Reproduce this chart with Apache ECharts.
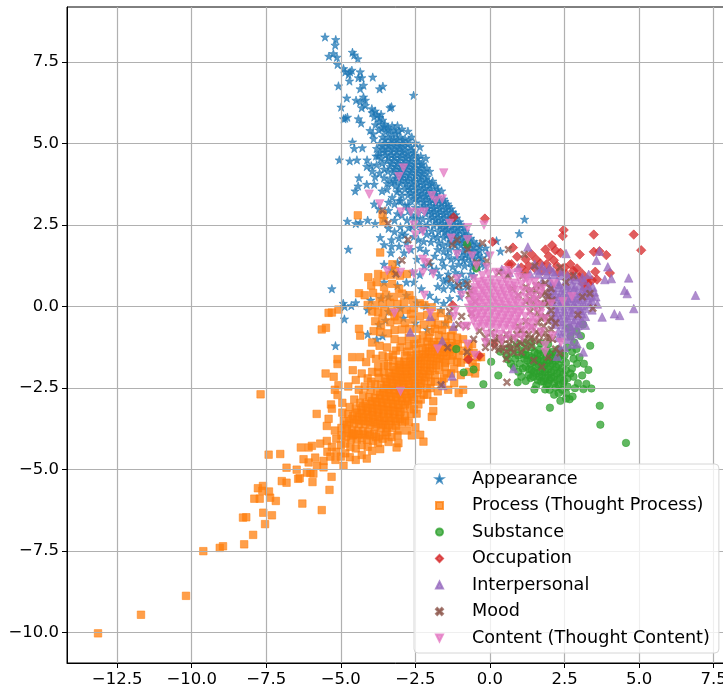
<!DOCTYPE html>
<html><head><meta charset="utf-8">
<style>html,body{margin:0;padding:0;background:#fff}#c{width:723px;height:688px}</style>
<script src="https://cdn.jsdelivr.net/npm/echarts@6/dist/echarts.min.js"></script></head>
<body><div id="c"></div>
<script>
const seriesNames = ["Appearance","Process (Thought Process)","Substance","Occupation","Interpersonal","Mood","Content (Thought Content)"];
const xTicks = [-12.5,-10,-7.5,-5,-2.5,0,2.5,5,7.5];
const yTicks = [-10,-7.5,-5,-2.5,0,2.5,5,7.5];
const appearance = [[-5.53,8.27],[-5.17,8.19],[-5.19,8.02],[-5.4,7.68],[-5.25,7.76],[-5.13,7.65],[-4.61,7.8],[-4.55,7.72],[-4.43,7.6],[-5.11,7.43],[-4.91,7.3],[-4.85,7.2],[-4.69,7.2],[-4.63,7.25],[-4.74,7.12],[-4.35,7.2],[-4.3,7.02],[-4.41,7.02],[-4.24,6.79],[-4.35,6.68],[-3.93,7.04],[-3.59,6.76],[-3.7,6.68],[-5.08,6.77],[-4.71,6.92],[-4.8,6.4],[-2.56,6.48],[-4.49,6.33],[-4.24,6.43],[-4.35,6.28],[-4.18,6.33],[-4.3,6.1],[-4.18,6.17],[-4.99,6.12],[-4.78,5.81],[-4.91,5.76],[-4.85,5.78],[-4.41,5.76],[-4.32,5.63],
[-3.96,6.07],[-3.35,6.1],[-3.3,6.13],[-3.95,5.95],[-3.85,6.0],[-3.78,5.88],[-3.7,5.8],[-3.88,5.82],[-3.6,5.72],[-3.72,5.66],[-3.52,5.6],[-3.84,5.58],[-3.42,5.5],[-3.62,5.48],[-3.28,5.55],[-3.1,5.55],[-2.95,5.45],[-2.75,5.38],[-3.92,5.3],[-4.02,5.4],[-3.5,5.36],[-3.3,5.32],[-3.15,5.3],[-3.4,5.2],[-3.6,5.2],[-3.22,5.15],[-3.02,5.2],[-2.85,5.15],[-2.62,5.2],[-3.7,5.0],[-3.5,5.02],[-3.32,5.0],[-3.12,5.02],[-2.95,5.0],[-2.75,4.98],[-2.5,5.02],[-2.35,4.9],[-3.8,4.85],[-3.6,4.82],[-3.42,4.85],[-3.22,4.83],[-3.04,4.85],[-2.85,4.8],[-2.62,4.8],[-3.75,4.62],[-3.5,4.65],[-3.3,4.66],[-3.12,4.65],[-2.94,4.66],[-2.74,4.62],[-2.52,4.65],[-2.32,4.62],[-2.15,4.55],[-3.45,4.47],[-3.24,4.48],[-3.05,4.48],[-2.85,4.47],[-2.65,4.46],[-2.42,4.45],[-2.25,4.38],[-3.8,4.35],[-3.62,4.4],[-3.35,4.3],[-3.15,4.3],[-2.95,4.3],[-2.75,4.3],[-2.55,4.28],[-2.35,4.25],[-2.12,4.25],[-3.7,4.1],[-3.25,4.12],[-3.05,4.13],[-2.85,4.13],[-2.65,4.12],[-2.45,4.1],[-2.25,4.08],[-2.02,4.15],[-3.55,3.95],[-3.15,3.95],[-2.95,3.96],[-2.75,3.95],[-2.55,3.94],[-2.35,3.92],[-2.15,3.9],[-1.92,3.85],[-3.3,3.78],[-3.0,3.78],[-2.82,3.78],[-2.62,3.77],[-2.42,3.75],[-2.22,3.73],[-2.02,3.72],[-1.8,3.7],[-3.05,3.6],[-2.85,3.6],[-2.68,3.6],[-2.48,3.58],[-2.28,3.56],[-2.08,3.55],[-1.85,3.52],[-1.62,3.55],[-2.95,3.42],[-2.75,3.42],[-2.55,3.4],[-2.35,3.4],[-2.15,3.38],[-1.95,3.36],[-1.75,3.35],[-1.55,3.3],[-2.65,3.25],[-2.42,3.22],[-2.22,3.2],[-2.02,3.2],[-1.82,3.18],[-1.62,3.17],[-1.42,3.15],[-2.85,3.1],[-2.5,3.05],[-2.28,3.03],[-2.08,3.02],[-1.88,3.0],[-1.68,3.0],[-1.48,2.98],[-1.3,3.0],[-2.4,2.88],[-2.15,2.85],[-1.95,2.84],[-1.75,2.83],[-1.55,2.82],[-1.35,2.8],[-1.15,2.82],[-2.55,2.7],[-2.25,2.68],[-2.02,2.67],[-1.82,2.66],[-1.62,2.65],[-1.42,2.63],[-1.22,2.62],[-1.02,2.6],[-2.1,2.5],[-1.88,2.48],[-1.68,2.48],[-1.48,2.46],[-1.28,2.45],[-1.08,2.42],[-0.88,2.44],[-2.3,2.35],[-1.95,2.32],[-1.72,2.3],[-1.52,2.3],[-1.32,2.28],[-1.12,2.26],[-0.9,2.24],[-0.72,2.2],[-1.75,2.12],[-1.55,2.12],[-1.35,2.1],[-1.15,2.08],[-0.95,2.06],[-0.75,2.03],[-0.55,2.0],[-1.98,1.98],[-1.4,1.92],[-1.18,1.9],[-0.98,1.88],[-0.78,1.86],[-0.55,1.82],[-0.35,1.85],[-0.15,1.8],[-1.1,1.72],[-0.9,1.7],[-0.68,1.68],[-0.45,1.65],[-1.55,1.7],[-1.75,1.75],[-0.95,1.52],[-0.72,1.5],[-0.5,1.47],[-0.28,1.5],[-1.3,1.45],[-0.08,1.62],[0.22,2.02],[0.35,1.7],[0.98,2.24],[1.16,2.68],
[-4.61,5.05],[-4.55,4.85],[-4.28,4.87],[-4.46,4.5],[-4.7,4.47],[-5.05,4.5],[-4.12,4.5],[-4.13,4.3],[-3.95,4.15],[-3.98,4.32],[-3.85,3.98],[-4.39,3.95],[-4.52,3.55],[-4.42,3.7],[-4.13,3.75],[-3.88,3.75],[-3.62,3.55],[-3.45,3.6],[-3.28,3.35],[-3.4,3.2],[-3.2,3.15],[-3.05,3.25],[-3.88,3.15],[-3.72,3.0],[-3.4,2.95],[-3.1,2.85],[-2.95,2.8],[-2.78,2.65],[-4.78,2.62],[-4.5,2.55],[-4.35,2.58],[-4.1,2.65],[-3.85,2.55],[-3.4,2.4],[-3.2,2.3],[-3.0,2.45],[-2.72,2.42],[-2.55,2.15],[-2.4,2.05],[-3.3,2.05],[-3.05,2.1],[-2.85,2.2],[-3.68,2.12],[-3.55,1.9],[-4.75,1.76],[-3.32,1.65],[-3.05,1.85],[-2.88,1.65],[-2.65,1.75],[-2.35,1.8],[-2.15,1.7],[-1.85,1.55],[-1.6,1.42],[-1.55,1.25],[-2.0,1.3],[-1.8,1.15],[-1.25,1.22],[-1.05,1.3],[-0.85,1.25],[-0.6,1.22],[-0.4,1.2],[-0.18,1.25],[-3.55,1.3],[-3.3,1.15],[-3.1,1.35],[-2.6,1.05],[-2.35,0.98],[-1.4,1.0],[-1.15,1.05],[-0.95,1.0],[-1.55,0.78],[-1.35,0.72],[-1.05,0.8],[-0.8,0.82],[-0.55,0.95],[-1.75,0.62],[-1.55,0.55],[-1.25,0.55],[-0.98,0.52],[-0.75,0.6],[-2.3,0.55],[-2.02,0.35],[-2.45,0.12],[-1.8,0.2],[-1.55,0.1],[-1.35,0.25],[-1.0,0.3],[-5.3,0.55],[-4.5,0.12],[-4.65,0.03],[-4.92,0.1],[-4.87,-0.0],[-4.0,0.2],[-3.65,0.25],[-3.4,0.3],[-2.8,0.35],[-4.1,-0.1],[-3.72,-0.55],[-3.4,-0.15],[-2.9,-0.35],[-2.5,-0.5],[-4.1,-0.85],[-3.6,-0.9],[-3.5,-0.42],[-2.1,-0.7],[-1.5,-0.5],[-4.88,-0.38],[-5.18,-1.2],[-3.8,-1.0],
[-3.65,5.9],[-3.55,5.52],[-3.72,5.42],[-3.2,5.42],[-3.4,5.42],[-3.05,5.38],[-3.52,5.12],[-3.3,5.1],[-3.1,5.12],[-2.92,5.1],[-2.72,5.1],[-3.6,4.92],[-3.4,4.93],[-3.2,4.92],[-3.02,4.92],[-2.85,4.92],[-2.65,4.9],[-3.7,4.73],[-3.52,4.74],[-3.32,4.75],[-3.12,4.75],[-2.95,4.75],[-2.75,4.72],[-2.55,4.72],[-3.4,4.57],[-3.2,4.57],[-3.0,4.57],[-2.82,4.56],[-2.62,4.56],[-2.42,4.55],[-3.3,4.39],[-3.1,4.39],[-2.9,4.38],[-2.7,4.38],[-2.5,4.37],[-2.3,4.35],[-3.2,4.22],[-3.0,4.22],[-2.8,4.22],[-2.6,4.2],[-2.4,4.18],[-2.2,4.16],[-3.1,4.04],[-2.9,4.04],[-2.7,4.04],[-2.5,4.02],[-2.3,4.0],[-2.1,3.98],[-2.95,3.87],[-2.75,3.87],[-2.55,3.85],[-2.32,3.83],[-2.12,3.82],[-1.95,3.78],[-2.75,3.68],[-2.55,3.68],[-2.38,3.66],[-2.18,3.64],[-1.98,3.62],[-1.75,3.6],[-2.65,3.5],[-2.42,3.48],[-2.22,3.47],[-2.02,3.46],[-1.82,3.44],[-2.5,3.32],[-2.32,3.31],[-2.12,3.3],[-1.92,3.28],[-1.72,3.26],[-1.52,3.23],[-2.2,3.12],[-1.98,3.1],[-1.78,3.09],[-1.58,3.08],[-1.38,3.07],[-2.05,2.93],[-1.85,2.92],[-1.65,2.9],[-1.45,2.9],[-1.25,2.9],[-1.92,2.75],[-1.72,2.74],[-1.52,2.73],[-1.32,2.72],[-1.12,2.72],[-1.78,2.57],[-1.58,2.56],[-1.38,2.54],[-1.18,2.53],[-0.98,2.52],[-1.6,2.39],[-1.42,2.37],[-1.22,2.36],[-1.02,2.34],[-0.82,2.32],[-1.45,2.2],[-1.25,2.18],[-1.05,2.16],[-0.85,2.14],[-0.65,2.1],[-1.28,2.0],[-1.08,1.98],[-0.88,1.96],[-0.68,1.94],[-0.45,1.92],[-0.8,1.78],[-0.58,1.74],[-0.35,1.72],[-0.82,1.6],[-0.6,1.58],[-0.38,1.57],
[-3.9,5.15],[-3.82,4.62],[-3.65,4.55],[-3.55,4.22],[-3.42,4.15],[-3.35,3.92],[-3.45,3.78],[-3.15,3.72],[-3.12,3.52],[-3.2,3.85],[-2.98,3.25],[-2.75,3.12],[-2.72,2.95],[-2.62,2.82],[-2.42,2.72],[-2.38,2.52],[-2.18,2.42],[-2.12,2.22],[-1.9,2.15],[-1.72,1.95],[-1.58,1.88],[-1.35,1.75],[-1.12,1.5],[-0.88,1.42],[-0.65,1.35],[-0.3,1.38],[-1.42,1.58],[-2.22,2.0],[-2.6,2.45],[-3.2,2.65],[-3.55,2.7],[-2.95,2.25],[-2.8,1.95],[-3.3,1.85],[-2.45,1.45],[-2.2,1.25],[-1.95,1.1],[-1.7,0.95],[-1.45,0.85],[-1.15,0.65],[-0.9,0.7],[-0.65,1.0],[-3.55,0.75],[-3.1,0.65],[-2.8,0.75],[-2.55,0.75],[-1.35,-0.3],[-1.65,-0.1],[-2.15,0.02],[-3.0,-0.05]];
const process = [[-13.14,-10.02],[-11.7,-9.45],[-10.19,-8.87],[-9.61,-7.5],[-9.06,-7.4],[-8.95,-7.35],[-8.24,-7.29],[-7.94,-7.0],[-7.54,-6.67],[-8.28,-6.47],[-8.17,-6.46],[-7.6,-6.32],[-7.31,-6.4],[-6.29,-6.04],[-5.64,-6.24],[-7.9,-5.89],[-7.72,-5.89],[-7.18,-5.96],[-7.37,-5.86],[-7.41,-5.67],[-7.78,-5.57],[-7.61,-5.5],[-7.63,-5.65],[-5.38,-5.62],[-5.31,-5.22],[-5.95,-5.38],[-6.98,-5.35],[-6.82,-5.4],[-6.43,-5.28],[-6.38,-5.26],[-7.42,-4.54],[-7.03,-4.52],[-6.82,-4.94],[-6.48,-5.0],[-6.14,-5.09],[-5.92,-5.12],[-6.02,-5.1],[-7.69,-2.69],[-5.81,-3.29],[-6.34,-4.32],[-6.08,-4.32],[-5.97,-4.27],[-6.25,-4.68],[-6.08,-4.78],[-5.86,-4.63],[-5.8,-4.88],[-5.58,-4.93],[-5.58,-4.73],[-5.47,-4.12],[-5.69,-4.2],[-4.91,-4.88],[-4.13,-4.66],[-3.68,-4.37],[-3.13,-4.32],[-3.07,-4.19],[-2.34,-3.93],[-2.23,-4.14],[-2.46,-3.28],[-1.95,-3.38],[-1.9,-3.2],[-5.51,-2.05],[-5.24,-2.15],[-5.11,-1.61],[-5.11,-1.76],[-5.08,-2.41],[-5.11,-2.71],[-5.33,-3.0],[-5.3,-3.13],[-5.41,-3.44],[-5.47,-3.66],[-5.41,-0.19],[-5.3,-0.18],[-5.08,-0.09],[-5.64,-0.7],[-5.5,-0.65],[-4.39,-0.68],[-4.35,-0.89],[-4.39,0.41],[-3.68,1.66],[-3.27,1.3],[-4.43,2.8],[-3.6,2.83],[-3.57,2.6],[-2.79,1.0],
[-5.45,-4.45],[-5.3,-4.3],[-5.15,-4.45],[-5.35,-4.6],[-5.18,-4.7],[-5.0,-4.6],[-4.85,-4.5],[-4.7,-4.62],[-4.5,-4.7],[-4.3,-4.55],[-5.0,-4.25],[-4.85,-4.2],[-4.68,-4.3],[-4.5,-4.35],[-4.3,-4.25],[-4.1,-4.3],[-3.95,-4.42],[-5.15,-4.05],[-4.98,-3.95],[-4.82,-3.98],[-4.65,-4.05],[-4.47,-4.08],[-4.3,-4.02],[-4.12,-4.08],[-3.92,-4.12],[-3.75,-4.18],[-5.2,-3.8],[-4.98,-3.72],[-4.8,-3.75],[-4.62,-3.8],[-4.44,-3.82],[-4.27,-3.82],[-4.08,-3.85],[-3.9,-3.9],[-3.72,-3.95],[-3.5,-3.95],[-3.3,-4.0],[-4.9,-3.5],[-4.72,-3.55],[-4.55,-3.58],[-4.38,-3.6],[-4.2,-3.6],[-4.02,-3.62],[-3.84,-3.68],[-3.66,-3.72],[-3.48,-3.72],[-3.28,-3.72],[-3.05,-3.8],[-2.78,-3.8],[-2.62,-3.95],[-4.95,-3.25],[-4.75,-3.3],[-4.58,-3.35],[-4.4,-3.38],[-4.22,-3.4],[-4.04,-3.4],[-3.86,-3.45],[-3.68,-3.5],[-3.5,-3.5],[-3.32,-3.5],[-3.14,-3.52],[-2.95,-3.55],[-2.72,-3.55],[-4.7,-3.08],[-4.5,-3.12],[-4.32,-3.18],[-4.14,-3.2],[-3.96,-3.22],[-3.78,-3.25],[-3.6,-3.28],[-3.42,-3.28],[-3.24,-3.3],[-3.05,-3.32],[-2.85,-3.35],[-2.65,-3.3],[-4.55,-2.85],[-4.35,-2.95],[-4.17,-2.97],[-3.98,-3.0],[-3.8,-3.02],[-3.62,-3.05],[-3.44,-3.08],[-3.26,-3.08],[-3.08,-3.1],[-2.9,-3.12],[-2.68,-3.05],[-4.25,-2.72],[-4.05,-2.78],[-3.86,-2.8],[-3.68,-2.82],[-3.5,-2.85],[-3.32,-2.85],[-3.14,-2.88],[-2.96,-2.9],[-2.76,-2.9],[-2.55,-2.85],[-2.32,-2.85],[-4.4,-2.55],[-4.0,-2.55],[-3.78,-2.6],[-3.58,-2.62],[-3.4,-2.65],[-3.22,-2.65],[-3.04,-2.68],[-2.86,-2.68],[-2.66,-2.68],[-2.46,-2.65],[-2.22,-2.7],[-3.85,-2.38],[-3.65,-2.4],[-3.47,-2.42],[-3.28,-2.45],[-3.1,-2.45],[-2.92,-2.48],[-2.74,-2.48],[-2.54,-2.45],[-2.34,-2.45],[-2.12,-2.5],[-4.1,-2.2],[-3.72,-2.18],[-3.52,-2.2],[-3.34,-2.23],[-3.16,-2.25],[-2.98,-2.27],[-2.8,-2.27],[-2.6,-2.25],[-2.4,-2.25],[-2.2,-2.27],[-1.98,-2.3],[-3.95,-2.0],[-3.56,-2.0],[-3.38,-2.03],[-3.2,-2.05],[-3.02,-2.07],[-2.84,-2.08],[-2.66,-2.06],[-2.46,-2.05],[-2.26,-2.06],[-2.06,-2.08],[-1.85,-2.1],[-3.42,-1.82],[-3.24,-1.85],[-3.06,-1.87],[-2.88,-1.88],[-2.7,-1.87],[-2.52,-1.85],[-2.32,-1.85],[-2.12,-1.87],[-1.92,-1.88],[-1.7,-1.95],[-3.25,-1.65],[-3.05,-1.68],[-2.87,-1.7],[-2.68,-1.68],[-2.5,-1.66],[-2.3,-1.65],[-2.1,-1.65],[-1.9,-1.67],[-1.7,-1.7],[-1.5,-1.72],[-2.85,-1.5],[-2.65,-1.5],[-2.46,-1.47],[-2.26,-1.46],[-2.06,-1.45],[-1.86,-1.46],[-1.66,-1.48],[-1.46,-1.5],[-1.25,-1.5],[-2.5,-1.3],[-2.25,-1.28],[-2.05,-1.26],[-1.85,-1.27],[-1.65,-1.28],[-1.45,-1.3],[-1.25,-1.3],[-1.05,-1.48],[-2.1,-1.07],[-1.88,-1.08],[-1.68,-1.08],[-1.48,-1.1],[-1.28,-1.12],[-1.08,-1.15],[-1.72,-0.88],[-1.5,-0.92],[-1.3,-0.9],[-1.1,-0.95],[-0.9,-1.0],[-0.9,-1.35],[-0.72,-1.45],
[-4.95,-2.95],[-5.2,-2.55],[-4.75,-2.45],[-4.5,-2.25],[-4.6,-1.95],[-4.3,-2.05],[-4.62,-1.55],[-4.35,-1.55],[-4.15,-1.7],[-4.0,-1.45],[-3.82,-1.6],[-3.6,-1.5],[-3.4,-1.55],[-3.15,-1.35],[-3.45,-1.25],[-3.7,-1.2],[-3.95,-1.1],[-3.2,-1.0],[-2.95,-1.05],[-2.72,-1.2],[-2.72,-0.95],[-2.45,-1.0],[-2.25,-0.88],[-2.0,-0.78],[-3.9,-0.75],[-3.68,-0.78],[-3.42,-0.82],[-3.2,-0.72],[-2.95,-0.7],[-2.7,-0.68],[-2.45,-0.68],[-2.22,-0.55],[-1.95,-0.5],[-1.75,-0.55],[-1.5,-0.55],[-1.25,-0.72],[-3.85,-0.45],[-3.6,-0.35],[-3.35,-0.48],[-3.1,-0.42],[-2.85,-0.5],[-2.58,-0.4],[-2.35,-0.3],[-2.1,-0.25],[-1.85,-0.3],[-1.65,-0.2],[-1.95,-0.02],[-2.2,0.05],[-3.95,-0.15],[-3.75,-0.18],[-3.55,-0.1],[-3.3,-0.15],[-3.05,-0.18],[-2.8,-0.1],[-2.55,-0.05],[-2.35,0.1],[-4.1,0.05],[-3.85,0.05],[-3.6,0.1],[-3.35,0.12],[-3.1,0.08],[-2.88,0.14],[-2.6,0.2],[-4.2,0.35],[-3.92,0.42],[-3.7,0.3],[-3.48,0.36],[-3.22,0.3],[-2.95,0.4],[-2.7,0.35],[-3.98,0.65],[-4.08,0.9],[-3.8,0.75],[-3.55,0.6],[-3.28,0.7],[-3.05,0.55],[-3.55,0.95],[-3.75,1.0],[-3.3,0.98],[-3.02,0.95],[-3.18,1.1],[-0.98,-1.72],[-0.75,-1.62],[-0.58,-1.72],[-0.42,-1.55],[-1.2,-1.9],[-0.98,-2.1],[-0.7,-2.0],[-0.48,-1.85],[-0.5,-2.05],[-1.45,-2.05],[-1.2,-2.35],[-1.05,-2.65],[-0.9,-2.55],[-1.6,-2.3],[-1.75,-2.6],[-1.9,-2.9],[-1.4,-2.55],[-0.3,-1.55],[-2.5,-3.7],[-3.4,-4.15],
[-4.62,-3.45],[-4.45,-3.48],[-4.28,-3.5],[-4.1,-3.52],[-3.92,-3.55],[-3.75,-3.6],[-3.58,-3.62],[-3.4,-3.62],[-4.45,-3.25],[-4.28,-3.28],[-4.1,-3.3],[-3.92,-3.33],[-3.74,-3.37],[-3.56,-3.4],[-3.38,-3.4],[-3.2,-3.42],[-3.02,-3.44],[-4.25,-3.05],[-4.08,-3.1],[-3.9,-3.12],[-3.72,-3.14],[-3.54,-3.16],[-3.36,-3.18],[-3.18,-3.2],[-3.0,-3.22],[-3.95,-2.9],[-3.78,-2.92],[-3.6,-2.94],[-3.42,-2.97],[-3.24,-2.98],[-3.06,-3.0],[-2.84,-3.0],[-3.68,-2.7],[-3.5,-2.73],[-3.32,-2.75],[-3.14,-2.77],[-2.95,-2.8],[-2.78,-2.8],[-2.6,-2.78],[-3.55,-2.5],[-3.38,-2.53],[-3.2,-2.55],[-3.0,-2.57],[-2.82,-2.58],[-2.62,-2.57],[-2.42,-2.55],[-3.45,-2.3],[-3.25,-2.35],[-3.05,-2.36],[-2.88,-2.37],[-2.7,-2.37],[-2.5,-2.35],[-2.3,-2.35],[-3.28,-2.14],[-3.1,-2.16],[-2.92,-2.17],[-2.74,-2.17],[-2.55,-2.15],[-2.35,-2.15],[-2.15,-2.17],[-3.14,-1.95],[-2.96,-1.97],[-2.78,-1.98],[-2.6,-1.96],[-2.4,-1.95],[-2.2,-1.96],[-2.0,-1.98],[-3.0,-1.78],[-2.8,-1.78],[-2.6,-1.76],[-2.4,-1.75],[-2.2,-1.76],[-2.0,-1.77],[-1.8,-1.8],[-2.58,-1.58],[-2.38,-1.56],[-2.18,-1.55],[-1.98,-1.56],[-1.78,-1.58],[-1.58,-1.6],[-2.15,-1.37],[-1.95,-1.37],[-1.75,-1.38],[-1.55,-1.4],[-1.35,-1.4],[-1.95,-1.17],[-1.75,-1.18],[-1.55,-1.2],[-1.35,-1.2],[-1.15,-1.22],[-4.6,-3.95],[-4.4,-3.92],[-4.2,-3.92],[-4.02,-3.95],[-3.82,-4.0],[-4.8,-3.62],[-4.72,-3.88],[-4.55,-3.9],
[-3.25,-1.48],[-3.0,-1.25],[-2.78,-1.38],[-2.55,-1.15],[-2.32,-1.12],[-2.05,-0.95],[-3.55,-1.75],[-3.75,-1.85],[-3.75,-2.02],[-3.98,-2.3],[-4.2,-2.45],[-1.5,-1.85],[-1.3,-1.65],[-1.1,-1.7],[-1.3,-2.05],[-1.55,-2.2],[-1.85,-2.3],[-2.0,-2.5],[-2.1,-2.7],[-2.4,-3.0],[-2.55,-3.15],[-2.85,-3.5],[-3.15,-3.65],[-3.1,-3.95],[-3.45,-3.85],[-3.6,-4.05],[-0.72,-1.22],[-0.55,-1.42],[-0.6,-1.15],[-1.85,-0.68],[-1.6,-0.72],[-1.4,-0.38],[-2.65,-0.22],[-3.2,-0.3],[-3.65,-0.58]];
const substance = [[4.56,-4.18],[3.7,-3.62],[3.68,-3.04],[2.01,-3.1],[2.36,-2.89],[2.67,-2.84],[2.77,-2.76],[2.15,-2.7],[1.49,-2.54],[1.85,-2.54],[-0.64,-3.02],[-0.22,-2.38],[0.28,-2.11],[0.93,-2.32],[1.36,-2.19],[-0.88,-2.02],[-0.55,-1.93],[0.04,-1.69],[-1.13,-1.3],[-0.77,1.91],[-0.46,1.17],[3.36,-1.2],[3.3,-1.94],[3.13,-2.53],[3.4,-2.51],[3.23,-2.37],[2.92,-1.75],[3.09,-2.11],[2.55,-2.65],[2.42,-2.55],[2.6,-2.45],[2.45,-2.35],[2.3,-2.4],[2.15,-2.35],[2.0,-2.25],[1.8,-2.3],[1.6,-2.25],[1.75,-2.1],[1.95,-2.1],[2.15,-2.15],[2.35,-2.2],[2.6,-2.2],[2.8,-2.15],[1.15,-1.6],[1.35,-1.75],[1.55,-1.85],[1.75,-1.9],[1.95,-1.92],[2.15,-1.95],[2.35,-2.0],[2.55,-1.95],[2.75,-1.9],[0.85,-1.6],[1.0,-1.75],[1.2,-1.85],[0.95,-2.0],[0.7,-1.75],[1.4,-1.95],[1.55,-2.05],[1.3,-2.1],[1.1,-1.45],[1.3,-1.5],[1.5,-1.6],[1.7,-1.7],[1.9,-1.73],[2.1,-1.75],[2.3,-1.78],[2.55,-1.72],[2.8,-1.6],[1.5,-1.4],[1.7,-1.5],[1.9,-1.55],[2.1,-1.58],[2.3,-1.55],[2.5,-1.5],[2.75,-1.38],[0.55,-1.5],[0.75,-1.42],[0.95,-1.3],[1.2,-1.3],[1.4,-1.25],[1.65,-1.32],[1.9,-1.35],[2.1,-1.38],[2.3,-1.3],[2.6,-1.25],[2.9,-1.3],[2.82,-1.1],[2.7,-0.9],[2.9,-0.75],[2.65,-0.65],[3.05,-0.9],[3.12,-0.55],[0.35,-1.38],[0.65,-1.25],[0.9,-1.12],[1.15,-1.1],[1.4,-1.08],[1.7,-1.12],[1.95,-1.15],[3.0,-1.55],[3.15,-1.75],[2.7,-2.05],[2.95,-2.35],[2.85,-2.5],[2.55,-2.82],[2.3,-2.65],[1.55,-2.42],[1.2,-2.28],[1.05,-2.15],[1.9,-2.4],[2.0,-2.55],
[1.25,-1.65],[1.45,-1.7],[1.62,-1.78],[1.82,-1.8],[2.02,-1.82],[2.22,-1.85],[2.42,-1.88],[1.1,-1.9],[1.32,-1.92],[1.48,-2.0],[1.68,-2.0],[1.85,-2.0],[2.05,-2.02],[2.25,-2.05],[2.45,-2.08],[1.45,-2.15],[1.65,-2.15],[1.85,-2.2],[2.05,-2.18],[2.25,-2.25],[2.48,-2.28],[1.72,-2.3],[1.95,-2.35],[2.2,-2.48],[1.4,-1.55],[1.6,-1.62],[1.8,-1.65],[2.0,-1.65],[2.2,-1.65],[2.42,-1.62],[1.2,-1.48],[1.6,-1.45],[1.8,-1.42],[2.0,-1.46],[2.2,-1.46],[2.4,-1.42],[0.8,-1.85],[0.6,-1.62],[0.95,-1.5]];
const occupation = [[-1.22,2.74],[-0.17,2.7],[2.47,2.35],[2.44,2.17],[3.48,2.21],[4.82,2.21],[5.07,1.73],[0.77,1.81],[2.08,1.88],[1.39,1.61],[1.86,1.75],[2.19,1.73],[2.36,1.65],[3.01,1.6],[3.48,1.68],[3.67,1.7],[3.9,1.58],[4.02,1.03],[3.53,1.07],[3.59,0.83],[3.42,0.81],[0.91,1.53],[0.63,1.3],[0.72,1.3],[1.97,1.55],[2.14,1.42],[1.69,1.32],[2.7,1.3],[2.92,1.17],[3.09,1.01],[0.09,1.99],[-1.25,0.04],[0.12,-1.14],[-0.36,-1.5],[-0.72,-1.62],[1.2,1.45],[1.55,1.45],[1.9,1.3],[2.25,1.25],[2.5,1.2],[2.8,1.1],[3.0,0.9],[3.25,0.85],[3.3,0.7],[1.3,1.25],[1.5,1.18],[1.75,1.1],[2.0,1.12],[2.3,1.05],[2.55,1.0],[2.78,0.92],[3.12,0.7],[3.2,0.55],[1.05,1.2],[1.18,1.05]];
const interpersonal = [[6.89,0.35],[4.65,0.88],[4.51,0.5],[4.6,0.4],[4.82,-0.06],[4.35,-0.27],[4.17,-0.22],[3.76,-0.32],[4.07,0.86],[3.85,0.83],[3.95,1.22],[3.57,1.42],[3.67,1.7],[2.55,1.63],[1.27,1.83],[3.31,0.99],[2.98,-0.83],[2.92,-1.14],[3.13,-1.39],[3.2,-0.57],[-1.27,-2.13],[-1.58,-2.42],[-2.0,-0.3],[-1.22,-0.6],[0.79,-1.9],[2.25,-1.52],[2.34,-1.24],[-2.67,-0.78],[-1.6,-1.05],[1.5,1.3],[1.75,1.25],[2.0,1.2],[1.35,1.0],[1.62,1.0],[1.9,0.98],[2.15,0.98],[2.4,0.95],[2.65,0.85],[2.9,0.82],[3.15,0.8],[3.3,0.62],[3.45,0.6],[3.5,0.45],[3.55,0.3],[3.42,0.18],[3.6,0.08],[1.75,0.78],[2.0,0.8],[2.25,0.78],[2.5,0.72],[2.75,0.68],[3.0,0.65],[3.22,0.48],[2.05,0.6],[2.3,0.58],[2.55,0.55],[2.8,0.5],[3.05,0.42],[3.28,0.28],[1.95,0.42],[2.2,0.4],[2.45,0.38],[2.7,0.35],[2.95,0.28],[3.2,0.12],[1.95,0.22],[2.2,0.22],[2.45,0.2],[2.7,0.18],[2.95,0.12],[3.2,-0.05],[3.42,-0.1],[2.1,0.05],[2.35,0.02],[2.6,0.02],[2.85,-0.02],[3.05,-0.12],[2.0,-0.15],[2.25,-0.18],[2.5,-0.15],[2.75,-0.18],[2.95,-0.28],[3.2,-0.3],[2.1,-0.38],[2.35,-0.35],[2.6,-0.35],[2.85,-0.4],[3.08,-0.42],[2.15,-0.55],[2.42,-0.55],[2.68,-0.58],[2.95,-0.58],[2.3,-0.75],[2.55,-0.78],[2.8,-0.75],[2.3,-0.95],[2.6,-1.0],[2.75,-1.15],[2.5,-1.25],[0.95,1.2],[0.65,1.05],[0.4,1.15],
[2.08,0.7],[2.32,0.68],[2.6,0.64],[2.85,0.6],[3.1,0.55],[3.35,0.5],[2.1,0.5],[2.4,0.48],[2.65,0.45],[2.9,0.4],[3.15,0.34],[3.4,0.35],[2.08,0.32],[2.32,0.3],[2.58,0.28],[2.82,0.25],[3.08,0.22],[3.35,0.08],[2.1,0.14],[2.35,0.12],[2.58,0.1],[2.82,0.08],[3.08,0.03],[2.22,-0.07],[2.48,-0.07],[2.72,-0.08],[2.98,-0.1],[2.2,-0.28],[2.48,-0.26],[2.72,-0.28],[3.08,-0.22],[2.28,-0.45],[2.55,-0.45],[2.8,-0.48],[3.0,-0.5],[2.5,-0.65],[2.72,-0.68],[2.42,-0.88],[2.72,-0.9],[1.6,1.12],[1.85,1.1],[2.12,1.08],[2.4,1.08],[2.6,0.95],[2.85,0.92],[3.1,0.9]];
const mood = [[0.57,-2.32],[1.47,-1.65],[1.74,-1.85],[-1.42,-1.26],[-1.64,-2.4],[-0.77,-1.39],[0.55,-1.6],[-3.6,2.95],[-3.42,2.55],[-2.75,2.05],[-2.95,1.42],[-3.15,1.0],[-1.1,2.05],[-1.25,1.9],[-2.05,1.35],[-0.75,1.75],[-0.25,1.95],[-0.45,1.35],[-0.1,1.4],[0.62,1.75],[1.15,1.6],[-1.3,0.85],[-1.05,0.65],[-0.75,0.7],[-0.7,0.35],[-1.35,-0.15],[-1.05,-0.55],[-0.95,-0.3],[-0.8,-0.6],[0.3,1.05],[0.6,0.95],[0.75,0.55],[0.95,0.35],[1.2,0.6],[1.4,0.5],[1.55,0.25],[1.7,0.65],[1.85,0.45],[1.95,0.1],[1.7,0.1],[1.45,0.05],[1.2,0.15],[2.05,-0.12],[1.85,-0.3],[1.6,-0.18],[2.2,-0.5],[2.05,-0.7],[1.8,-0.6],[1.55,-0.78],[1.3,-0.85],[1.05,-0.72],[0.8,-0.95],[0.55,-0.85],[0.3,-0.95],[0.05,-0.8],[-0.15,-0.95],[-0.35,-0.75],[0.15,-1.1],[0.4,-1.15],[0.65,-1.15],[0.9,-1.2],[1.15,-1.05],[1.4,-1.2],[1.65,-1.05],[1.9,-0.95],[2.1,-1.0],[-0.15,-1.25],[0.3,-1.32],[0.55,-1.38],[0.8,-1.4],[1.05,-1.4],[1.35,-0.98],[-0.55,-1.0],[-0.5,0.15],[-0.62,-0.2],[-0.65,0.5],[3.1,0.3],[3.35,0.4],[3.45,-0.05],[2.95,-0.25],[2.55,0.75],[2.8,0.95],[2.35,1.2],[1.5,1.25],[1.1,0.95],[2.35,-1.42],[2.2,-1.3],[1.95,-1.55],
[1.3,0.42],[1.55,0.48],[1.75,0.35],[1.95,0.3],[1.55,0.65],[1.85,0.72],[2.05,0.55],[1.35,0.22],[1.62,0.02],[1.85,0.05],[2.08,0.2],[1.35,-0.15],[1.7,-0.35],[1.95,-0.45],[1.6,-0.5],[1.4,-0.62],[1.15,-0.85],[0.9,-0.85],[0.65,-1.0],[0.42,-1.0],[0.18,-0.98],[-0.05,-1.1],[1.65,-0.85],[1.5,-1.0],[1.2,-1.25],[1.0,-1.1],[0.7,-1.3],[0.45,-1.28],[0.15,-1.25],[1.85,-0.8],[2.0,-0.95],[2.05,-0.35],[1.2,-0.45],[0.95,-0.6]];
const content = [[-1.55,4.1],[-3.05,3.98],[-3.7,3.15],[-2.98,2.9],[-2.65,2.9],[-2.4,2.88],[-2.55,2.5],[-2.5,2.2],[-2.25,2.3],[-2.72,1.75],[-2.25,1.45],[-2.15,1.35],[-3.45,1.1],[-3.0,1.05],[-2.55,1.0],[-2.25,1.05],[-1.9,1.0],[-3.2,-0.2],[-2.2,0.35],[-2.0,-0.2],[-4.05,3.45],[-2.9,4.25],[-1.6,3.3],[-1.95,3.4],[-1.82,3.25],[-2.2,2.9],[-1.35,2.55],[-0.75,2.42],[-0.2,2.5],[-0.75,2.05],[-1.3,2.1],[-1.1,1.6],[-0.6,1.55],[-0.45,1.25],[-0.25,0.95],[-1.1,0.85],[-0.95,0.35],[-1.2,-0.3],[-0.9,-0.62],[-0.75,-0.6],[-1.15,-0.1],[0.0,1.55],[-0.1,1.2],[0.2,1.05],[0.45,0.95],[0.7,1.02],[0.95,0.9],[1.15,0.85],[-0.4,0.75],[-0.2,0.78],[0.05,0.82],[0.3,0.8],[0.55,0.75],[0.8,0.72],[1.05,0.68],[1.3,0.72],[1.5,0.75],[-0.5,0.58],[-0.28,0.55],[-0.05,0.6],[0.18,0.6],[0.42,0.55],[0.65,0.55],[0.9,0.5],[1.12,0.48],[1.35,0.45],[-0.6,0.38],[-0.38,0.36],[-0.15,0.4],[0.08,0.4],[0.3,0.38],[0.52,0.35],[0.75,0.32],[0.98,0.28],[1.22,0.28],[1.45,0.3],[-0.68,0.15],[-0.46,0.18],[-0.25,0.2],[-0.02,0.2],[0.2,0.18],[0.42,0.15],[0.65,0.13],[0.88,0.1],[1.12,0.1],[1.35,0.12],[1.55,0.2],[-0.72,-0.05],[-0.5,-0.03],[-0.28,-0.02],[-0.05,0.0],[0.18,-0.02],[0.4,-0.05],[0.62,-0.07],[0.85,-0.1],[1.08,-0.1],[1.3,-0.08],[1.52,-0.05],[1.75,0.0],[-0.62,-0.25],[-0.4,-0.22],[-0.18,-0.2],[0.05,-0.22],[0.28,-0.25],[0.5,-0.27],[0.72,-0.28],[0.95,-0.3],[1.18,-0.3],[1.4,-0.32],[-0.55,-0.45],[-0.32,-0.42],[-0.1,-0.42],[0.12,-0.44],[0.35,-0.47],[0.58,-0.48],[0.8,-0.5],[1.02,-0.5],[1.25,-0.52],[-0.45,-0.65],[-0.22,-0.62],[0.0,-0.65],[0.22,-0.66],[0.45,-0.68],[0.68,-0.7],[0.9,-0.72],[1.12,-0.72],[-0.1,-0.85],[0.12,-0.88],[0.35,-0.85],[0.6,-0.9],[0.85,-0.98],[1.45,-0.7],[1.72,-0.78],[1.85,-0.38],[2.05,0.08],[2.15,0.7],[2.75,0.3],[2.45,0.15],[2.1,-0.9],[1.85,-1.2],[1.08,-0.95],[0.4,-1.05],[-0.15,-1.1],[-0.75,-1.15],[-0.5,-1.5],[1.85,-1.4],[2.38,-1.1],[-0.05,1.0],[-0.55,0.85],[1.75,0.55],[-3.0,-2.6],[-1.75,-1.3],
[-0.35,0.66],[-0.12,0.7],[0.12,0.7],[0.38,0.68],[0.62,0.65],[0.85,0.62],[-0.5,0.47],[-0.22,0.48],[0.02,0.5],[0.25,0.48],[0.48,0.46],[0.72,0.44],[-0.55,0.27],[-0.32,0.28],[-0.08,0.3],[0.15,0.29],[0.38,0.27],[0.6,0.24],[0.85,0.2],[-0.6,0.05],[-0.38,0.08],[-0.15,0.1],[0.08,0.09],[0.3,0.07],[0.52,0.04],[0.75,0.02],[0.98,0.0],[-0.6,-0.15],[-0.38,-0.12],[-0.15,-0.1],[0.08,-0.11],[0.3,-0.14],[0.52,-0.16],[0.75,-0.18],[0.98,-0.2],[-0.5,-0.35],[-0.28,-0.32],[-0.05,-0.32],[0.18,-0.34],[0.42,-0.37],[0.65,-0.38],[0.88,-0.4],[-0.35,-0.55],[-0.12,-0.53],[0.1,-0.55],[0.32,-0.56],[0.55,-0.58],[0.78,-0.6],
[1.55,0.6],[1.7,0.42],[1.6,0.05],[1.7,-0.2],[1.55,-0.42],[1.42,-0.5],[1.3,-0.68],[1.25,0.88],[0.95,1.05],[0.55,1.1]];

const stars = "path://M50 0L61.8 34.5 97.6 34.5 68.5 56 79.4 90.5 50 69.1 20.6 90.5 31.5 56 2.4 34.5 38.2 34.5Z";
const cross = "path://M18 0L50 32 82 0 100 18 68 50 100 82 82 100 50 68 18 100 0 82 32 50 0 18Z";
const downTri = "path://M0 0L100 0 50 100Z";
const tri = "path://M50 0L100 100 0 100Z";
const dia = "path://M50 0L100 50 50 100 0 50Z";
const specs = [
 [appearance,"#1f77b4",stars,8.5],[process,"#ff7f0e","rect",7.5],[substance,"#2ca02c","circle",7.5],
 [occupation,"#d62728",dia,9.5],[interpersonal,"#9467bd",tri,8.5],[mood,"#8c564b",cross,7.5],[content,"#e377c2",downTri,8.5]];
const chart = echarts.init(document.getElementById('c'),null,{renderer:'canvas'});
const minusFmt = v => String(Number(v).toFixed(1)).replace('-','\u2212');
const axisCommon = {
  scale:false, z:10,
  axisLine:{show:true,onZero:false,lineStyle:{color:'#000',width:1}},
  axisTick:{show:true,length:5,inside:false,lineStyle:{color:'#000',width:1}},
  splitLine:{show:true,lineStyle:{color:'#b0b0b0',width:1.2}},
  axisLabel:{color:'#000',fontFamily:'DejaVu Sans',fontSize:16.5,margin:8,formatter:minusFmt}
};
chart.setOption({
  animation:false, backgroundColor:'#fff',
  grid:{left:67,top:7,width:661,height:656,show:true,borderColor:'#000',borderWidth:1,backgroundColor:'transparent',containLabel:false,outerBoundsMode:'none'},
  xAxis:Object.assign({},axisCommon,{type:'value',min:-14.18,max:7.98,
    axisTick:Object.assign({},axisCommon.axisTick,{customValues:xTicks}),
    axisLabel:Object.assign({},axisCommon.axisLabel,{customValues:xTicks})}),
  yAxis:Object.assign({},axisCommon,{type:'value',min:-10.93,max:9.19,
    axisTick:Object.assign({},axisCommon.axisTick,{customValues:yTicks}),
    axisLabel:Object.assign({},axisCommon.axisLabel,{customValues:yTicks})}),
  legend:{show:true,orient:'vertical',left:414,top:464,padding:[6,9,6,21],itemWidth:7,itemHeight:7,itemGap:8.5,z:20,
    backgroundColor:'rgba(255,255,255,0.8)',borderColor:'#d6d6d6',borderWidth:1,borderRadius:4,
    textStyle:{fontFamily:'DejaVu Sans',fontSize:17.6,color:'#000',padding:[0,0,0,24]},
    data:seriesNames},
  series:specs.map((s,i)=>({
    name:seriesNames[i],type:'scatter',data:s[0],symbol:s[2],symbolSize:s[3],z:2+i*0.01,
    large:false,clip:true,
    itemStyle:{color:s[1],opacity:0.75,borderColor:s[1],borderWidth:0.7},emphasis:{disabled:true}}))
});
</script></body></html>
